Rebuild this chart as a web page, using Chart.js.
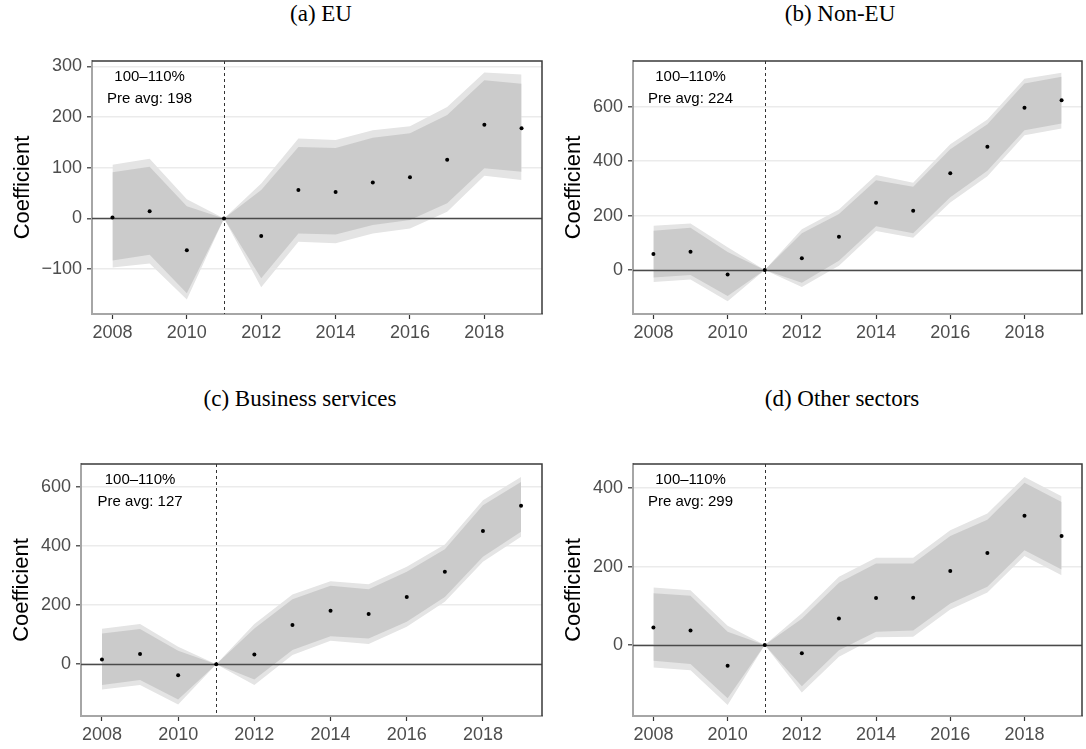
<!DOCTYPE html>
<html>
<head>
<meta charset="utf-8">
<script src="https://cdn.jsdelivr.net/npm/chart.js@4.4.0/dist/chart.umd.min.js"></script>
<style>
  html, body { margin: 0; padding: 0; background: #ffffff; }
  body { width: 1086px; height: 749px; position: relative; overflow: hidden; }
  .panel { position: absolute; }
  .title {
    position: absolute; transform: translate(-50%, -50%);
    font-family: "Liberation Serif", "DejaVu Serif", serif; font-size: 23px;
    color: #000; white-space: nowrap;
  }
</style>
</head>
<body>
<div class="title" style="left:321px; top:14px;">(a) EU</div>
<div class="title" style="left:840px; top:14px;">(b) Non-EU</div>
<div class="title" style="left:300px; top:399px;">(c) Business services</div>
<div class="title" style="left:842px; top:399px;">(d) Other sectors</div>

<div class="panel" style="left:0px; top:40px;"><canvas id="pa" width="546" height="300"></canvas></div>
<div class="panel" style="left:546px; top:40px;"><canvas id="pb" width="540" height="300"></canvas></div>
<div class="panel" style="left:0px; top:440px;"><canvas id="pc" width="546" height="309"></canvas></div>
<div class="panel" style="left:546px; top:440px;"><canvas id="pd" width="540" height="309"></canvas></div>

<script>
// Event-study years
const years = [2008, 2009, 2010, 2011, 2012, 2013, 2014, 2015, 2016, 2017, 2018, 2019];
const xTicks = [2008, 2010, 2012, 2014, 2016, 2018];
const treatYear = 2011;

// (a) EU
const euCoef     = [2, 14, -63, 0, -35, 56, 52, 71, 81, 116, 185, 178];
const euInnerHi  = [91, 102, 24, 0, 56, 141, 139, 159, 168, 204, 273, 266];
const euInnerLo  = [-83, -72, -148, 0, -118, -30, -32, -13, -3, 30, 99, 92];
const euOuterHi  = [106, 118, 38, 0, 69, 158, 155, 174, 182, 220, 288, 284];
const euOuterLo  = [-97, -89, -160, 0, -136, -46, -49, -30, -20, 13, 84, 76];
const euTicks    = [-100, 0, 100, 200, 300];

// (b) Non-EU
const nonEuCoef    = [59, 67, -16, 0, 43, 122, 247, 218, 356, 453, 596, 624];
const nonEuInnerHi = [144, 155, 66, 0, 135, 206, 330, 306, 444, 536, 685, 710];
const nonEuInnerLo = [-27, -18, -95, 0, -47, 34, 161, 135, 267, 365, 514, 538];
const nonEuOuterHi = [163, 171, 84, 0, 150, 222, 349, 321, 462, 553, 703, 725];
const nonEuOuterLo = [-44, -35, -115, 0, -62, 16, 143, 119, 248, 345, 495, 520];
const nonEuTicks   = [0, 200, 400, 600];

// (c) Business services
const busCoef    = [16, 34, -38, 0, 33, 133, 181, 170, 228, 313, 452, 537];
const busInnerHi = [104, 119, 45, 0, 121, 220, 266, 254, 313, 390, 539, 618];
const busInnerLo = [-71, -54, -120, 0, -52, 48, 95, 87, 144, 228, 364, 449];
const busOuterHi = [120, 136, 59, 0, 136, 236, 281, 271, 330, 406, 556, 635];
const busOuterLo = [-86, -71, -137, 0, -71, 31, 79, 68, 127, 212, 347, 432];
const busTicks   = [0, 200, 400, 600];

// (d) Other sectors
const othCoef    = [45, 37, -53, 0, -21, 68, 120, 121, 189, 235, 330, 278];
const othInnerHi = [132, 126, 34, 0, 67, 159, 208, 208, 278, 320, 414, 365];
const othInnerLo = [-40, -48, -136, 0, -105, -13, 34, 37, 106, 149, 242, 193];
const othOuterHi = [147, 140, 49, 0, 81, 174, 223, 223, 293, 336, 429, 380];
const othOuterLo = [-57, -64, -153, 0, -121, -30, 20, 21, 91, 134, 227, 178];
const othTicks   = [0, 200, 400];

// Annotation lines shown in each panel
const bandLabel = '100\u2013110%';
const preAvg = { a: 198, b: 224, c: 127, d: 299 };

const SANS = '"Liberation Sans", Arial, Helvetica, sans-serif';
const INNER = '#cbcbcb';
const OUTER = '#e4e4e4';

function pts(arr) { return years.map((x, i) => ({ x: x, y: arr[i] })); }
function fmt(v) { return v < 0 ? '\u2212' + Math.abs(v) : String(v); }

// Reference lines (zero + treatment year) drawn over the bands, under the points
const refLines = {
  id: 'refLines',
  beforeDatasetDraw(chart, args) {
    if (args.index !== 0) return;
    const { ctx, chartArea: a, scales: { x, y } } = chart;
    ctx.save();
    ctx.beginPath(); ctx.rect(a.left, a.top, a.right - a.left, a.bottom - a.top); ctx.clip();
    const y0 = Math.round(y.getPixelForValue(0)) + 0.5;
    ctx.strokeStyle = '#4a4a4a'; ctx.lineWidth = 1.3;
    ctx.beginPath(); ctx.moveTo(a.left, y0); ctx.lineTo(a.right, y0); ctx.stroke();
    const xv = Math.round(x.getPixelForValue(treatYear)) + 0.5;
    ctx.strokeStyle = '#333333'; ctx.lineWidth = 1; ctx.setLineDash([3, 3]);
    ctx.beginPath(); ctx.moveTo(xv, a.top); ctx.lineTo(xv, a.bottom); ctx.stroke();
    ctx.restore();
  }
};

// Panel frame: dark top/right edges; left/bottom come from the axis borders
const frame = {
  id: 'frame',
  afterDraw(chart) {
    const { ctx, chartArea: a } = chart;
    ctx.save();
    ctx.strokeStyle = '#3a3a3a'; ctx.lineWidth = 1.5;
    ctx.beginPath();
    ctx.moveTo(a.left, a.top); ctx.lineTo(a.right, a.top); ctx.lineTo(a.right, a.bottom);
    ctx.stroke();
    ctx.restore();
  }
};

// Text block in the upper-left corner of each panel
const note = {
  id: 'note',
  afterDatasetsDraw(chart, args, opts) {
    const { ctx, chartArea: a, scales: { x } } = chart;
    const cx = x.getPixelForValue(2009);
    ctx.save();
    ctx.fillStyle = '#000'; ctx.font = '15px ' + SANS;
    ctx.textAlign = 'center'; ctx.textBaseline = 'middle';
    ctx.fillText(bandLabel, cx, a.top + 16);
    ctx.fillText('Pre avg: ' + opts.avg, cx, a.top + 37.5);
    ctx.restore();
  }
};

function makePanel(id, s) {
  const ds = [
    { data: pts(s.coef), showLine: false, pointRadius: 2, pointBackgroundColor: '#000',
      pointBorderWidth: 0, borderWidth: 0 },
    { data: pts(s.innerHi), fill: '+1', backgroundColor: INNER, borderWidth: 0, pointRadius: 0, tension: 0 },
    { data: pts(s.innerLo), fill: false, borderWidth: 0, pointRadius: 0, tension: 0 },
    { data: pts(s.outerHi), fill: '+1', backgroundColor: OUTER, borderWidth: 0, pointRadius: 0, tension: 0 },
    { data: pts(s.outerLo), fill: false, borderWidth: 0, pointRadius: 0, tension: 0 }
  ];
  new Chart(document.getElementById(id), {
    type: 'line',
    data: { datasets: ds },
    plugins: [refLines, frame, note],
    options: {
      responsive: false, animation: false, events: [],
      layout: { padding: { top: s.padTop, right: s.padRight, left: 0, bottom: 0 } },
      plugins: { legend: { display: false }, tooltip: { enabled: false }, note: { avg: s.avg } },
      scales: {
        x: {
          type: 'linear', min: 2007.45, max: 2019.55,
          afterBuildTicks(sc) { sc.ticks = xTicks.map(v => ({ value: v })); },
          afterFit(sc) { sc.height = s.xHeight; },
          grid: { drawOnChartArea: false, tickLength: 5, tickColor: '#333', tickWidth: 1.2 },
          border: { display: true, color: '#a6a6a6', width: 2 },
          ticks: { color: '#4d4d4d', font: { family: SANS, size: 18 }, padding: 3,
                   maxRotation: 0, autoSkip: false, callback: v => String(v) }
        },
        y: {
          type: 'linear', min: s.yMin, max: s.yMax,
          afterBuildTicks(sc) { sc.ticks = s.ticks.map(v => ({ value: v })); },
          afterFit(sc) { sc.width = s.yWidth; },
          grid: { color: '#ebebeb', lineWidth: 1.6, tickLength: 5, tickColor: '#333', tickWidth: 1.2 },
          border: { display: true, color: '#a6a6a6', width: 2 },
          ticks: { color: '#4d4d4d', font: { family: SANS, size: 18 }, padding: 5, callback: v => fmt(v) },
          title: { display: true, text: 'Coefficient', color: '#000',
                   font: { family: SANS, size: 22 }, padding: { top: s.titlePad, bottom: 0 } }
        }
      }
    }
  });
}

makePanel('pa', { coef: euCoef, innerHi: euInnerHi, innerLo: euInnerLo, outerHi: euOuterHi, outerLo: euOuterLo,
  ticks: euTicks, yMin: -188.8, yMax: 310.8, avg: preAvg.a,
  padTop: 21, padRight: 4, yWidth: 92, xHeight: 26, titlePad: 10 });
makePanel('pb', { coef: nonEuCoef, innerHi: nonEuInnerHi, innerLo: nonEuInnerLo, outerHi: nonEuOuterHi, outerLo: nonEuOuterLo,
  ticks: nonEuTicks, yMin: -161.5, yMax: 768, avg: preAvg.b,
  padTop: 21, padRight: 1, yWidth: 87, xHeight: 26, titlePad: 15 });
makePanel('pc', { coef: busCoef, innerHi: busInnerHi, innerLo: busInnerLo, outerHi: busOuterHi, outerLo: busOuterLo,
  ticks: busTicks, yMin: -176, yMax: 679, avg: preAvg.c,
  padTop: 24, padRight: 4, yWidth: 81, xHeight: 33, titlePad: 9 });
makePanel('pd', { coef: othCoef, innerHi: othInnerHi, innerLo: othInnerLo, outerHi: othOuterHi, outerLo: othOuterLo,
  ticks: othTicks, yMin: -181, yMax: 462, avg: preAvg.d,
  padTop: 24, padRight: 1, yWidth: 87, xHeight: 33, titlePad: 15 });
</script>
</body>
</html>
